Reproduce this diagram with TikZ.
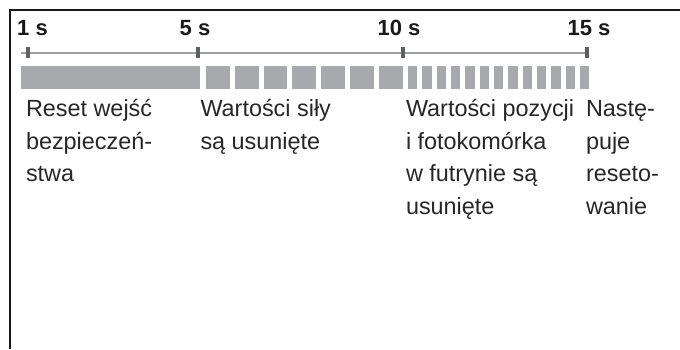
\documentclass[tikz,border=0pt]{standalone}
\usepackage{fontspec}
\setmainfont{Liberation Sans}
\usepackage{tikz}
\usetikzlibrary{positioning}
\definecolor{tlbar}{RGB}{167,169,172}
\definecolor{tlaxis}{RGB}{160,162,165}
\definecolor{tltick}{RGB}{95,96,99}
\definecolor{tlframe}{RGB}{25,25,25}

\begin{document}
\begin{tikzpicture}[x=1pt, y=-1pt,
  every node/.style={inner sep=0pt, outer sep=0pt},
  tlabel/.style={font=\bfseries\fontsize{22}{26}\selectfont, anchor=base,
                 text=black!90},
  tickmark/.style={rectangle, fill=tltick, minimum width=3.6pt,
                   minimum height=11.5pt},
  phase/.style={font=\fontsize{23.4}{32.5}\selectfont, anchor=base west,
                align=left, text=black!85},
  seg/.style={fill=tlbar},
  axis/.style={draw=tlaxis, line width=2pt},
]
\useasboundingbox (0,0) rectangle (680,349);

% Frame
\draw[tlframe, line width=1.3pt] (10,349) -- (10,10) -- (680,10);

% ── Time axis ──
\coordinate (ax0) at (21,52.5);
\coordinate (c1)  at (28,52.5);
\coordinate (c5)  at (198,52.5);
\coordinate (c10) at (403,52.5);
\coordinate (c15) at (587,52.5);
\draw[axis] (ax0) -- (c15);

\node[tickmark] (t1)  at (c1)  {};
\node[tickmark] (t5)  at (c5)  {};
\node[tickmark] (t10) at (c10) {};
\node[tickmark] (t15) at (c15) {};

% Time labels
\node[tlabel] (l1)  at (32.5,35) {1 s};
\node[tlabel] (l5)  at (195,35)  {5 s};
\node[tlabel] (l10) at (399,35)  {10 s};
\node[tlabel] (l15) at (589,35)  {15 s};

% ── Signal bars ──
\fill[seg] (20.5,66) rectangle (199.5,88.5);
\foreach \i in {0,...,6}
  \fill[seg] (206+28.83*\i,66) rectangle ++(23.8,22.5);
\foreach \i in {0,...,12}
  \fill[seg] (408+14.333*\i,66) rectangle ++(9.4,22.5);

% ── Phase descriptions (anchored at last baseline) ──
\node[phase] (p1) at (26,181.5)  {Reset wejść\\bezpieczeń-\\stwa};
\node[phase] (p2) at (200.5,149) {Wartości siły\\są usunięte};
\node[phase] (p3) at (406,214)   {Wartości pozycji\\i fotokomórka\\w futrynie są\\usunięte};
\node[phase] (p4) at (586,214)   {Nastę-\\puje\\reseto-\\wanie};

\end{tikzpicture}
\end{document}
